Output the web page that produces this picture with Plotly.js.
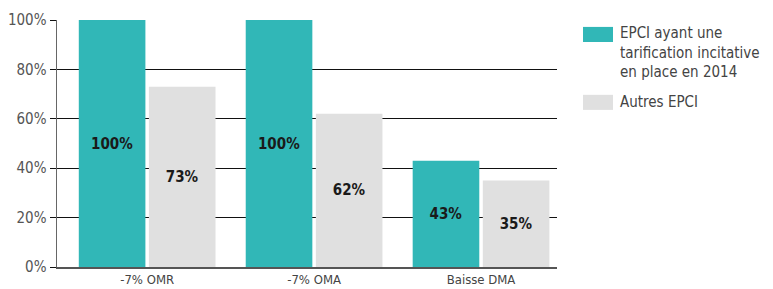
<!DOCTYPE html>
<html><head><meta charset="utf-8">
<script src="https://cdn.plot.ly/plotly-3.0.1.min.js"></script>
<style>body{margin:0;background:#fff}#c{width:773px;height:289px}</style>
</head><body><div id="c"></div>
<script>
const categories = ["-7% OMR", "-7% OMA", "Baisse DMA"];
const seriesNames = ["EPCI ayant une<br>tarification incitative<br>en place en 2014", "Autres EPCI"];
const epciTI = [100, 100, 43];
const autres = [73, 62, 35];
const yTickVals = [0, 20, 40, 60, 80, 100];
const yTickText = ["0%", "20%", "40%", "60%", "80%", "100%"];

const FONT = "DejaVu Sans Condensed, Liberation Sans Narrow, sans-serif";
const TEAL = "#31b7b7", GREY = "#e0e0e0";

const mk = (name, vals, color) => ({
  type: "bar", name: name, x: categories, y: vals,
  marker: {color: color},
  text: vals.map(v => v + "%"), textposition: "inside", insidetextanchor: "middle",
  textfont: {family: FONT, size: 15, color: "#1a1a1a", weight: "bold"},
  hoverinfo: "skip", showlegend: false, cliponaxis: false
});

const data = [mk(seriesNames[0], epciTI, TEAL), mk(seriesNames[1], autres, GREY)];

const layout = {
  width: 773, height: 289,
  margin: {l: 57, r: 216, t: 20, b: 22, pad: 0},
  paper_bgcolor: "#fff", plot_bgcolor: "#fff",
  barmode: "group", bargap: 0.16, bargroupgap: 0.05,
  font: {family: FONT, color: "#444"},
  xaxis: {
    type: "category", range: [-0.54, 2.455], showgrid: false,
    showline: true, linecolor: "#555", linewidth: 1.5,
    ticks: "", tickfont: {size: 13, color: "#444", family: FONT}, ticklen: 4
  },
  yaxis: {
    range: [0, 100], tickvals: yTickVals, ticktext: yTickText,
    showgrid: true, gridcolor: "#111", gridwidth: 1,
    showline: true, linecolor: "#666", linewidth: 1.5,
    ticks: "outside", ticklen: 6, tickcolor: "#111", tickwidth: 1,
    tickfont: {size: 15, color: "#555", family: FONT}, zeroline: false
  },
  shapes: [
    {type: "rect", xref: "paper", yref: "paper", x0: 1.052, x1: 1.112, y0: 0.911, y1: 0.972, fillcolor: TEAL, line: {width: 0}},
    {type: "rect", xref: "paper", yref: "paper", x0: 1.052, x1: 1.112, y0: 0.636, y1: 0.697, fillcolor: GREY, line: {width: 0}}
  ],
  annotations: [
    {xref: "paper", yref: "paper", x: 1.122, y: 0.99, xanchor: "left", yanchor: "top", align: "left", showarrow: false,
     text: seriesNames[0], font: {size: 15, color: "#444", family: FONT}},
    {xref: "paper", yref: "paper", x: 1.122, y: 0.668, xanchor: "left", yanchor: "middle", align: "left", showarrow: false,
     text: seriesNames[1], font: {size: 15, color: "#444", family: FONT}}
  ]
};
Plotly.newPlot("c", data, layout, {displayModeBar: false, staticPlot: true});
</script></body></html>
